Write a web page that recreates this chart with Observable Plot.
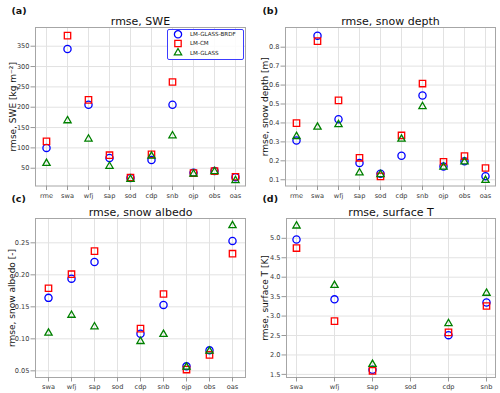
<!DOCTYPE html>
<html><head><meta charset="utf-8">
<script src="https://cdn.jsdelivr.net/npm/d3@7"></script>
<script src="https://cdn.jsdelivr.net/npm/@observablehq/plot@0.6"></script>
<style>
body{margin:0;background:#fff;font-family:"DejaVu Sans",sans-serif;}
#chart{position:relative;width:500px;height:393px;overflow:hidden;background:#fff;}
#chart > svg{position:absolute;}
</style></head><body><div id="chart"></div>
<script>
const seriesNames = ["LM-GLASS-BRDF", "LM-CM", "LM-GLASS"];
const seriesColors = ["#0000ff", "#ff0000", "#008000"];
const seriesSymbols = ["circle", "square", "triangle"];
const panelLabels = ["(a)", "(b)", "(c)", "(d)"];

// Panels (a) and (b)
const sitesAB = ["rme", "swa", "wfj", "sap", "sod", "cdp", "snb", "ojp", "obs", "oas"];
const sweBRDF  = [100, 343, 206, 75, 26, 70, 206, 39, 43, 28];
const sweCM    = [116, 376, 218, 82, 27, 84, 262, 38, 43, 29];
const sweGLASS = [62, 167, 122, 55, 23, 80, 130, 36, 42, 20];
const sweTicks = [50, 100, 150, 200, 250, 300, 350];

const depthBRDF  = [0.307, 0.861, 0.420, 0.188, 0.132, 0.227, 0.545, 0.170, 0.198, 0.119];
const depthCM    = [0.399, 0.832, 0.519, 0.216, 0.118, 0.334, 0.608, 0.195, 0.225, 0.162];
const depthGLASS = [0.329, 0.378, 0.392, 0.137, 0.128, 0.315, 0.487, 0.167, 0.195, 0.097];
const depthTicks = [0.1, 0.2, 0.3, 0.4, 0.5, 0.6, 0.7, 0.8];

// Panel (c)
const sitesC = ["swa", "wfj", "sap", "sod", "cdp", "snb", "ojp", "obs", "oas"];
const albedoBRDF  = [0.164, 0.194, 0.220, null, 0.108, 0.153, 0.057, 0.082, 0.253];
const albedoCM    = [0.179, 0.201, 0.237, null, 0.116, 0.170, 0.052, 0.075, 0.233];
const albedoGLASS = [0.109, 0.137, 0.119, null, 0.096, 0.107, 0.056, 0.081, 0.277];
const albedoTicks = [0.05, 0.10, 0.15, 0.20, 0.25];

// Panel (d)
const sitesD = ["swa", "wfj", "sap", "sod", "cdp", "snb"];
const tempBRDF  = [4.97, 3.43, 1.62, null, 2.51, 3.35];
const tempCM    = [4.75, 2.87, 1.59, null, 2.58, 3.26];
const tempGLASS = [5.32, 3.79, 1.76, null, 2.81, 3.59];
const tempTicks = [1.5, 2.0, 2.5, 3.0, 3.5, 4.0, 4.5, 5.0];

const symbolR = [3.6, 3.6, 2.7];
const chart = document.getElementById("chart");

function makePanel(cfg) {
  const rows = [];
  cfg.series.forEach((vals, s) => vals.forEach((v, i) => {
    if (v != null) rows.push({site: cfg.sites[i], value: v, s});
  }));
  const marks = [
    Plot.gridX(cfg.sites, {stroke: "#e2e2e2", strokeOpacity: 1, strokeWidth: 1}),
    Plot.gridY(cfg.ticks, {stroke: "#e2e2e2", strokeOpacity: 1, strokeWidth: 1}),
    Plot.frame({stroke: "#a6a6a6", strokeWidth: 1}),
    Plot.axisX(cfg.sites, {tickSize: 4.5, tickPadding: 2.5, fontSize: 6.6, stroke: "#999", fill: "#3a3a3a", label: null}),
    Plot.axisY(cfg.ticks, {tickSize: 4.5, tickPadding: 1.5, fontSize: 6.6, stroke: "#999", fill: "#3a3a3a", tickFormat: cfg.fmt, label: null})
  ];
  cfg.series.forEach((_, s) => {
    marks.push(Plot.dot(rows.filter(d => d.s === s), {
      x: "site", y: "value", symbol: seriesSymbols[s], stroke: seriesColors[s],
      fill: "none", r: symbolR[s], strokeWidth: 1.3
    }));
  });
  marks.push(Plot.text([cfg.title], {frameAnchor: "top", dy: -2.5, lineAnchor: "bottom", fontSize: 11, fill: "#111"}));
  marks.push(Plot.text([cfg.ylabel], {frameAnchor: "left", dx: cfg.labelDx, rotate: -90, textAnchor: "middle", lineAnchor: "middle", fontSize: 9, fill: "#111"}));
  const svg = Plot.plot({
    width: cfg.width, height: cfg.height,
    marginTop: cfg.mt, marginBottom: cfg.mb, marginLeft: cfg.ml, marginRight: cfg.mr,
    x: {type: "point", domain: cfg.sites, padding: cfg.pad},
    y: {domain: cfg.domain},
    style: {background: "transparent", overflow: "visible", fontFamily: "DejaVu Sans, sans-serif"},
    marks
  });
  svg.style.left = cfg.left + "px";
  svg.style.top = cfg.top + "px";
  chart.appendChild(svg);
}

makePanel({sites: sitesAB, series: [sweBRDF, sweCM, sweGLASS], ticks: sweTicks, fmt: d3.format("d"),
  title: "rmse, SWE", ylabel: "rmse, SWE [kg m\u207B\u00B2]", domain: [6.3, 396], pad: 0.45,
  left: 0, top: 0, width: 250, height: 200, mt: 27, mb: 14.5, ml: 35, mr: 5, labelDx: -22});
makePanel({sites: sitesAB, series: [depthBRDF, depthCM, depthGLASS], ticks: depthTicks, fmt: d3.format(".1f"),
  title: "rmse, snow depth", ylabel: "rmse, snow depth [m]", domain: [0.067, 0.904], pad: 0.45,
  left: 250, top: 0, width: 250, height: 200, mt: 27, mb: 14.5, ml: 35, mr: 5, labelDx: -20});
makePanel({sites: sitesC, series: [albedoBRDF, albedoCM, albedoGLASS], ticks: albedoTicks, fmt: d3.format(".2f"),
  title: "rmse, snow albedo", ylabel: "rmse, snow albedo [-]", domain: [0.0396, 0.288], pad: 0.4,
  left: 0, top: 195, width: 250, height: 198, mt: 23, mb: 16, ml: 35, mr: 5, labelDx: -23});
makePanel({sites: sitesD, series: [tempBRDF, tempCM, tempGLASS], ticks: tempTicks, fmt: d3.format(".1f"),
  title: "rmse, surface T", ylabel: "rmse, surface T [K]", domain: [1.42, 5.51], pad: 0.25,
  left: 250, top: 195, width: 250, height: 198, mt: 23, mb: 16, ml: 36, mr: 5, labelDx: -21});

// Overlay: panel labels and legend
const ov = d3.select(chart).append("svg")
  .attr("width", 500).attr("height", 393)
  .style("left", "0px").style("top", "0px").style("pointer-events", "none")
  .style("font-family", "DejaVu Sans, sans-serif");
const labelPos = [[11.5, 14], [262.5, 14], [11.5, 202], [262.5, 202]];
panelLabels.forEach((t, i) => {
  ov.append("text").attr("x", labelPos[i][0]).attr("y", labelPos[i][1])
    .attr("font-size", 9.5).attr("font-weight", "bold").attr("fill", "#111").text(t);
});
const lg = ov.append("g").attr("transform", "translate(167,29)");
lg.append("rect").attr("x", 0.5).attr("y", 0.5).attr("width", 76).attr("height", 30)
  .attr("rx", 1.5).attr("fill", "#fff").attr("fill-opacity", 0.85).attr("stroke", "#3c3cff").attr("stroke-width", 1);
const symTypes = {circle: d3.symbolCircle, square: d3.symbolSquare, triangle: d3.symbolTriangle};
seriesNames.forEach((name, i) => {
  const y = 5.3 + i * 9.2;
  lg.append("path").attr("transform", `translate(11,${y})`)
    .attr("d", d3.symbol(symTypes[seriesSymbols[i]], Math.PI * symbolR[i] * symbolR[i])())
    .attr("fill", "none").attr("stroke", seriesColors[i]).attr("stroke-width", 1.3);
  lg.append("text").attr("x", 23).attr("y", y).attr("dy", "0.35em")
    .attr("font-size", 5.6).attr("fill", "#222").text(name);
});
</script>
</body></html>
